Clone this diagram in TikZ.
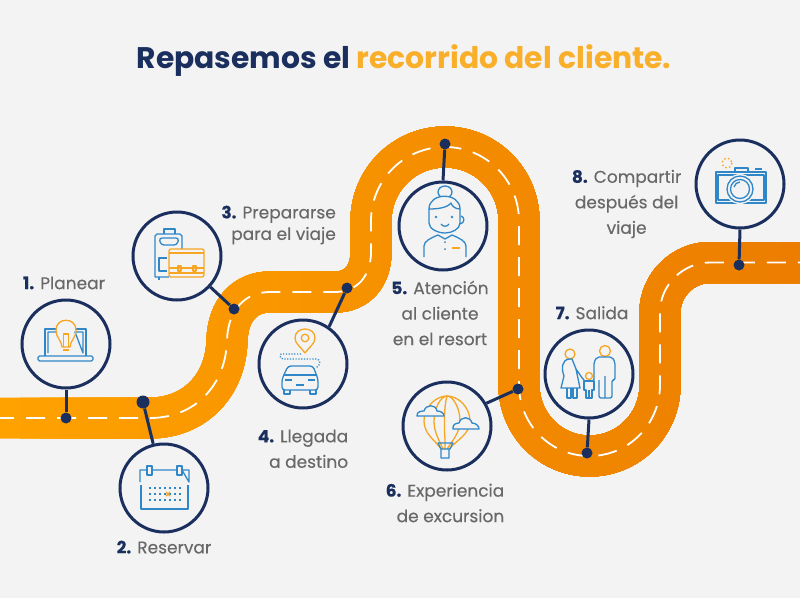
\documentclass[tikz,border=0pt]{standalone}
\usepackage{xcolor}
\usepackage{fontspec}
\setmainfont{Poppins}
\newfontfamily\labelfont[FakeBold=0.3]{Poppins}
\usetikzlibrary{positioning}
\definecolor{pagebg}{HTML}{F3F3F3}
\definecolor{navyblue}{HTML}{1B2F5E}
\definecolor{labelgray}{HTML}{686868}
\definecolor{titleyellow}{HTML}{FAAF2B}
\definecolor{roadleft}{HTML}{FFA200}
\definecolor{roadright}{HTML}{EC7D00}
\definecolor{iconblue}{HTML}{2F87C8}
\definecolor{iconorange}{HTML}{F6A623}
\newcommand{\stepnum}[1]{\textcolor{navyblue}{\textbf{#1.}}}
\def\roadpath{(-5,418) -- (150,418) .. controls (195,418) and (226,385) .. (227,340) .. controls (228,310) and (245,292) .. (270,292) -- (335,292) .. controls (358,292) and (371,275) .. (371,252) -- (371,221) .. controls (371,180) and (404,147) .. (445,147) .. controls (486,147) and (519,180) .. (519,221) -- (519,385) .. controls (519,424) and (550,456) .. (589.5,456) .. controls (629,456) and (660,424) .. (660,385) -- (660,312) .. controls (660,285) and (683,262.5) .. (710,262.5) -- (805,262.5)}

\begin{document}
\begin{tikzpicture}[
    x=1pt, y=-1pt,
    stepcircle/.style={circle, draw=navyblue, line width=3pt, fill=pagebg, minimum size=88pt, inner sep=0pt},
    stepdot/.style={circle, fill=navyblue, minimum size=11pt, inner sep=0pt},
    stepline/.style={draw=navyblue, line width=3pt},
    steplabel/.style={text=labelgray, font=\labelfont\fontsize{17}{25.5}\selectfont, inner sep=0pt},
    blueline/.style={draw=iconblue, line width=1.3pt, line join=round},
    orangeline/.style={draw=iconorange, line width=1.3pt, line join=round}
]
    \useasboundingbox (0,0) rectangle (800,598);
    \fill[pagebg] (0,0) rectangle (800,598);

    % Title
    \node[font=\fontsize{29.8}{36}\selectfont\bfseries, inner sep=0pt] (title) at (404,61) {\textcolor{navyblue}{Repasemos el} \textcolor{titleyellow}{recorrido del cliente.}};

    % Road, colour moves along x
    \foreach \x in {0,20,...,780} {
        \pgfmathsetmacro{\mixpct}{\x/780*100}
        \colorlet{roadstrip}{roadright!\mixpct!roadleft}
        \begin{scope}
            \clip (\x,0) rectangle (800,598);
            \draw[roadstrip, line width=41pt] \roadpath;
        \end{scope}
    }
    \draw[white, line width=1.8pt, dash pattern=on 19pt off 12pt] \roadpath;

    % Circles
    \node[stepcircle] (circ1) at (66,344) {};
    \node[stepcircle] (circ2) at (164,488) {};
    \node[stepcircle] (circ3) at (177,256) {};
    \node[stepcircle] (circ4) at (303,364) {};
    \node[stepcircle] (circ5) at (443,226) {};
    \node[stepcircle] (circ6) at (447,426) {};
    \node[stepcircle] (circ7) at (589,374) {};
    \node[stepcircle] (circ8) at (740,184) {};

    % Dots on the road
    \node[stepdot] (dot1) at (66,418) {};
    \node[stepdot, minimum size=13pt] (dot2) at (143,402) {};
    \node[stepdot] (dot3) at (234,309) {};
    \node[stepdot] (dot4) at (347,288) {};
    \node[stepdot] (dot5) at (445,144) {};
    \node[stepdot] (dot6) at (518,389) {};
    \node[stepdot] (dot7) at (587,453) {};
    \node[stepdot] (dot8) at (739,265) {};

    % Connectors
    \draw[stepline] (circ1.south) -- (dot1);
    \draw[stepline] (dot2) -- (circ2);
    \draw[stepline] (circ3) -- (dot3);
    \draw[stepline] (circ4.55) -- (dot4);
    \draw[stepline] (circ5.north) -- (dot5);
    \draw[stepline] (circ6.30) -- (dot6);
    \draw[stepline] (circ7.south) -- (dot7);
    \draw[stepline] (circ8.south) -- (dot8);

    % Labels
    \node[steplabel, above=9pt of circ1, xshift=-2pt] (label1) {\stepnum{1} Planear};
    \node[steplabel, below=7pt of circ2] (label2) {\stepnum{2} Reservar};
    \node[steplabel, align=right, anchor=east] (label3) at (336,225) {\stepnum{3} Prepararse\\[-4pt]para el viaje};
    \node[steplabel, align=right, below=20pt of circ4] (label4) {\stepnum{4} Llegada\\a destino};
    \node[steplabel, align=center, below=9pt of circ5, xshift=-3pt] (label5) {\stepnum{5} Atención\\al cliente\\en el resort};
    \node[steplabel, align=right, below=12pt of circ6, xshift=-2pt] (label6) {\stepnum{6} Experiencia\\de excursion};
    \node[steplabel, above=9pt of circ7, xshift=3pt] (label7) {\stepnum{7} Salida};
    \node[steplabel, align=center, left=13pt of circ8, yshift=-20pt] (label8) {\stepnum{8} Compartir\\después del\\viaje};

    % Laptop with bulb
    \begin{scope}[shift={(66,344)}]
        \draw[blueline] (-21,12) -- (-21,-15) -- (-9,-15) (9,-15) -- (20,-15) -- (20,12);
        \draw[blueline] (-18,9) -- (-18,-12) -- (-9,-12) (9,-12) -- (17,-12) -- (17,9) -- cycle;
        \draw[blueline, rounded corners=1.5pt] (-28,12) rectangle (27,17);
        \draw[orangeline] (-4,3) .. controls (-4,-3) and (-10,-6) .. (-10,-14) .. controls (-10,-27) and (10,-27) .. (10,-14) .. controls (10,-6) and (4,-3) .. (4,3) -- cycle;
        \draw[orangeline] (-2.5,3) -- (-2.5,-10) -- (2.5,-10) -- (2.5,3) (-3,6) -- (3,6);
    \end{scope}

    % Calendar
    \begin{scope}[shift={(164,488)}]
        \draw[blueline] (-24,-6) -- (-24,-18) -- (-17,-18) (-12,-18) -- (13,-18) (18,-18) -- (25,-18) -- (25,-6) -- cycle;
        \draw[blueline] (-23,-3) -- (-23,21) -- (24,21) -- (24,-3);
        \draw[blueline] (-17,-22) rectangle (-12,-13) (13,-22) rectangle (18,-13);
        \foreach \y in {0,6,12} {
            \draw[iconblue, line width=1.2pt, dash pattern=on 1.5pt off 3.5pt] (-15,\y) -- (18,\y);
        }
        \draw[orangeline, line width=1.4pt] (2,4) -- (6,8) (6,4) -- (2,8);
    \end{scope}

    % Luggage
    \begin{scope}[shift={(177,256)}]
        \draw[blueline] (-8,21) -- (-22,21) -- (-22,-20) -- (-20,-22) -- (3,-22) -- (5,-20) -- (5,-7);
        \draw[blueline] (-13,-22) -- (-13,-27) -- (-2,-27) -- (-2,-22);
        \draw[blueline, rounded corners=3pt] (-18,-18) -- (2,-18) -- (0,-11) -- (-16,-11) -- cycle;
        \draw[blueline] (-10,2) -- (-18,2) -- (-18,15) -- (-10,15);
        \draw[blueline] (-18,21) -- (-18,24);
        \draw[orangeline, rounded corners=2pt] (-8,-7) rectangle (27,21);
        \draw[orangeline] (-8,-3) -- (27,-3) (-8,12) -- (27,12) (-8,17) -- (27,17);
        \draw[orangeline] (1,10) rectangle (4,15) (16,10) rectangle (19,15);
    \end{scope}

    % Car and pin
    \begin{scope}[shift={(303,364)}]
        \draw[orangeline] (2,-11) .. controls (-2,-17) and (-8,-20) .. (-8,-26) .. controls (-8,-38) and (12,-38) .. (12,-26) .. controls (12,-20) and (6,-17) .. (2,-11) -- cycle;
        \draw[orangeline] (2,-26) circle[radius=3.8];
        \draw[iconblue, line width=1.2pt, dash pattern=on 1.2pt off 1.6pt] (-2,-10) -- (-22,-10) .. controls (-24,-7) and (-22,-5) .. (-20,-5) -- (13,-5) .. controls (18,-5) and (18,1) .. (13,4);
        \draw[blueline, rounded corners=3pt] (-21,26) -- (-21,15) -- (-15,2) -- (10,2) -- (15,15) -- (15,26) -- cycle;
        \draw[blueline] (-19,11) -- (13,11);
        \draw[blueline] (-19,26) -- (-19,30) -- (-13,30) -- (-13,26) (7,26) -- (7,30) -- (13,30) -- (13,26);
        \draw[blueline] (-18,16) -- (-11,16) (5,16) -- (12,16) (-7,21) -- (1,21);
    \end{scope}

    % Attendant
    \begin{scope}[shift={(443,226)}]
        \draw[blueline] (2,-34) ellipse[x radius=7, y radius=6];
        \draw[blueline, fill=pagebg] (-14,-17) .. controls (-14,-34) and (17,-34) .. (17,-17) .. controls (12,-17) and (9,-20) .. (8,-23) .. controls (4,-18) and (-6,-17) .. (-14,-17) -- cycle;
        \draw[blueline] (-14,-17) -- (-14,-3) .. controls (-14,3) and (-5,7) .. (2,7) .. controls (9,7) and (17,3) .. (17,-3) -- (17,-17);
        \fill[iconblue] (-7,-9) circle[radius=1.3] (9,-9) circle[radius=1.3] (2,16) circle[radius=1] (2,23) circle[radius=1];
        \draw[blueline] (-2,-2) .. controls (0,1) and (4,1) .. (6,-2);
        \draw[blueline] (18,-10) .. controls (22,-9) and (22,-3) .. (17,-2);
        \draw[blueline] (-19,31) -- (-19,20) .. controls (-19,15) and (-12,12) .. (-5,9) -- (2,13) -- (9,9) .. controls (16,12) and (23,15) .. (23,20) -- (23,31);
        \draw[orangeline, line width=1.6pt] (9,22) -- (17,22);
    \end{scope}

    % Balloon
    \begin{scope}[shift={(447,426)}]
        \draw[orangeline] (-6,23) .. controls (-12,14) and (-23,8) .. (-23,-5) .. controls (-23,-18) and (-12,-30) .. (0,-30) .. controls (12,-30) and (23,-18) .. (23,-5) .. controls (23,8) and (10,14) .. (2,23);
        \draw[orangeline] (-4,23) .. controls (-8,14) and (-13,6) .. (-13,-5) .. controls (-13,-18) and (-6,-30) .. (0,-30) .. controls (6,-30) and (13,-18) .. (13,-5) .. controls (13,6) and (6,14) .. (0,23);
        \draw[orangeline] (-2,23) -- (-2,14) (-2,14) .. controls (-3,0) and (-3,-20) .. (0,-30);
        \draw[blueline, fill=pagebg] (-30,-10) .. controls (-31,-15) and (-24,-15) .. (-23,-15) .. controls (-21,-22) and (-11,-22) .. (-10,-15) .. controls (-6,-15) and (-3,-13) .. (-3,-10) -- cycle;
        \draw[blueline, fill=pagebg] (6,3) .. controls (5,-2) and (10,-3) .. (12,-3) .. controls (14,-10) and (23,-10) .. (25,-3) .. controls (29,-3) and (32,0) .. (32,3) -- cycle;
        \draw[blueline] (-9,17) -- (6,17) -- (3,23) -- (-6,23) -- cycle (-6,23) rectangle (2,32);
    \end{scope}

    % Family
    \begin{scope}[shift={(589,374)}]
        \draw[orangeline] (-19,-20) circle[radius=5] (16,-23) circle[radius=5.5] (0,2) circle[radius=3.5];
        \draw[blueline] (-20,-15) .. controls (-27,-14) and (-28,-6) .. (-25,2) -- (-28,14) -- (-9,14) -- (-13,-5) .. controls (-10,-1) and (-8,3) .. (-5,6) (-20,-15) -- (-17,-15) -- (-13,-5);
        \draw[blueline] (-22,14) -- (-22,24) -- (-18,24) -- (-18,14) (-16,14) -- (-16,24) -- (-12,24) -- (-12,14);
        \draw[blueline, rounded corners=2pt] (5,5) -- (5,-12) -- (8,-17) -- (23,-17) -- (26,-12) -- (26,6) -- (23,6) -- (23,24) -- (10,24) -- (10,6);
        \draw[blueline] (16,2) -- (16,24) (5,5) -- (4,8);
        \draw[blueline] (-5,7) -- (5,7) -- (5,16) -- (3,16) -- (3,24) -- (-3,24) -- (-3,16) -- (-5,16) -- cycle (0,16) -- (0,24);
    \end{scope}

    % Camera
    \begin{scope}[shift={(740,184)}]
        \draw[blueline] (-24,-12) rectangle (26,19) (-22,-9) rectangle (24,16);
        \fill[pagebg] (0,5) circle[radius=15];
        \draw[blueline] (0,5) circle[radius=13] (0,5) circle[radius=9.5];
        \draw[blueline] (-6,3) .. controls (-5,0) and (-3,-2) .. (0,-2);
        \draw[blueline] (-5,-12) -- (-5,-16) -- (8,-16) -- (8,-12) (15,-15) -- (22,-15);
        \draw[iconorange, line width=1.4pt, dash pattern=on 1.5pt off 2.5pt] (-13,-21) circle[radius=5];
    \end{scope}
\end{tikzpicture}
\end{document}
